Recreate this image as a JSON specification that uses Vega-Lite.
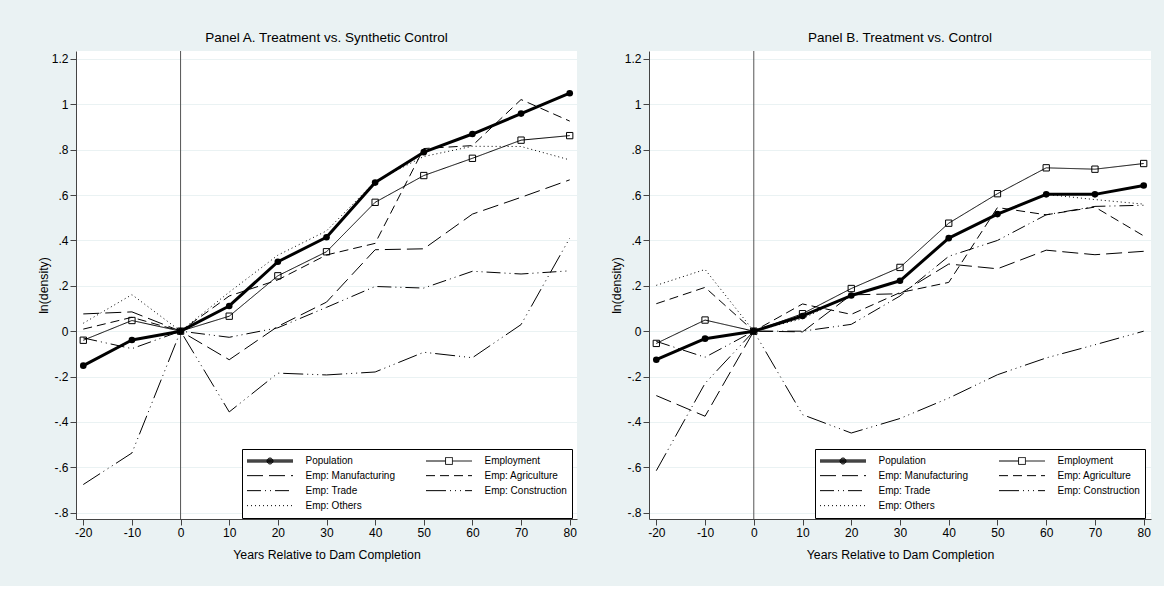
{
  "$schema": "https://vega.github.io/schema/vega-lite/v6.json",
  "background": "#eaf2f3",
  "padding": {"left": 37, "top": 31, "right": 13, "bottom": 25},
  "datasets": {
    "d": [
      {"p":"A","s":"Population","x":-20,"y":-0.152},{"p":"A","s":"Population","x":-10,"y":-0.039},{"p":"A","s":"Population","x":0,"y":0},{"p":"A","s":"Population","x":10,"y":0.111},{"p":"A","s":"Population","x":20,"y":0.306},{"p":"A","s":"Population","x":30,"y":0.414},{"p":"A","s":"Population","x":40,"y":0.655},{"p":"A","s":"Population","x":50,"y":0.789},{"p":"A","s":"Population","x":60,"y":0.869},{"p":"A","s":"Population","x":70,"y":0.959},{"p":"A","s":"Population","x":80,"y":1.049},
      {"p":"A","s":"Employment","x":-20,"y":-0.040},{"p":"A","s":"Employment","x":-10,"y":0.047},{"p":"A","s":"Employment","x":0,"y":0},{"p":"A","s":"Employment","x":10,"y":0.066},{"p":"A","s":"Employment","x":20,"y":0.244},{"p":"A","s":"Employment","x":30,"y":0.350},{"p":"A","s":"Employment","x":40,"y":0.568},{"p":"A","s":"Employment","x":50,"y":0.686},{"p":"A","s":"Employment","x":60,"y":0.762},{"p":"A","s":"Employment","x":70,"y":0.842},{"p":"A","s":"Employment","x":80,"y":0.862},
      {"p":"A","s":"Emp: Manufacturing","x":-20,"y":0.076},{"p":"A","s":"Emp: Manufacturing","x":-10,"y":0.085},{"p":"A","s":"Emp: Manufacturing","x":0,"y":0},{"p":"A","s":"Emp: Manufacturing","x":10,"y":-0.126},{"p":"A","s":"Emp: Manufacturing","x":20,"y":0.021},{"p":"A","s":"Emp: Manufacturing","x":30,"y":0.128},{"p":"A","s":"Emp: Manufacturing","x":40,"y":0.359},{"p":"A","s":"Emp: Manufacturing","x":50,"y":0.363},{"p":"A","s":"Emp: Manufacturing","x":60,"y":0.516},{"p":"A","s":"Emp: Manufacturing","x":70,"y":0.590},{"p":"A","s":"Emp: Manufacturing","x":80,"y":0.667},
      {"p":"A","s":"Emp: Agriculture","x":-20,"y":0.009},{"p":"A","s":"Emp: Agriculture","x":-10,"y":0.061},{"p":"A","s":"Emp: Agriculture","x":0,"y":0},{"p":"A","s":"Emp: Agriculture","x":10,"y":0.155},{"p":"A","s":"Emp: Agriculture","x":20,"y":0.226},{"p":"A","s":"Emp: Agriculture","x":30,"y":0.336},{"p":"A","s":"Emp: Agriculture","x":40,"y":0.387},{"p":"A","s":"Emp: Agriculture","x":50,"y":0.805},{"p":"A","s":"Emp: Agriculture","x":60,"y":0.818},{"p":"A","s":"Emp: Agriculture","x":70,"y":1.021},{"p":"A","s":"Emp: Agriculture","x":80,"y":0.926},
      {"p":"A","s":"Emp: Trade","x":-20,"y":-0.030},{"p":"A","s":"Emp: Trade","x":-10,"y":-0.077},{"p":"A","s":"Emp: Trade","x":0,"y":0},{"p":"A","s":"Emp: Trade","x":10,"y":-0.027},{"p":"A","s":"Emp: Trade","x":20,"y":0.015},{"p":"A","s":"Emp: Trade","x":30,"y":0.105},{"p":"A","s":"Emp: Trade","x":40,"y":0.197},{"p":"A","s":"Emp: Trade","x":50,"y":0.190},{"p":"A","s":"Emp: Trade","x":60,"y":0.264},{"p":"A","s":"Emp: Trade","x":70,"y":0.252},{"p":"A","s":"Emp: Trade","x":80,"y":0.266},
      {"p":"A","s":"Emp: Construction","x":-20,"y":-0.676},{"p":"A","s":"Emp: Construction","x":-10,"y":-0.537},{"p":"A","s":"Emp: Construction","x":0,"y":0},{"p":"A","s":"Emp: Construction","x":10,"y":-0.356},{"p":"A","s":"Emp: Construction","x":20,"y":-0.185},{"p":"A","s":"Emp: Construction","x":30,"y":-0.193},{"p":"A","s":"Emp: Construction","x":40,"y":-0.180},{"p":"A","s":"Emp: Construction","x":50,"y":-0.093},{"p":"A","s":"Emp: Construction","x":60,"y":-0.117},{"p":"A","s":"Emp: Construction","x":70,"y":0.029},{"p":"A","s":"Emp: Construction","x":80,"y":0.410},
      {"p":"A","s":"Emp: Others","x":-20,"y":0.035},{"p":"A","s":"Emp: Others","x":-10,"y":0.161},{"p":"A","s":"Emp: Others","x":0,"y":0},{"p":"A","s":"Emp: Others","x":10,"y":0.172},{"p":"A","s":"Emp: Others","x":20,"y":0.335},{"p":"A","s":"Emp: Others","x":30,"y":0.442},{"p":"A","s":"Emp: Others","x":40,"y":0.660},{"p":"A","s":"Emp: Others","x":50,"y":0.770},{"p":"A","s":"Emp: Others","x":60,"y":0.815},{"p":"A","s":"Emp: Others","x":70,"y":0.814},{"p":"A","s":"Emp: Others","x":80,"y":0.755},
      {"p":"B","s":"Population","x":-20,"y":-0.126},{"p":"B","s":"Population","x":-10,"y":-0.033},{"p":"B","s":"Population","x":0,"y":0},{"p":"B","s":"Population","x":10,"y":0.067},{"p":"B","s":"Population","x":20,"y":0.157},{"p":"B","s":"Population","x":30,"y":0.222},{"p":"B","s":"Population","x":40,"y":0.410},{"p":"B","s":"Population","x":50,"y":0.516},{"p":"B","s":"Population","x":60,"y":0.603},{"p":"B","s":"Population","x":70,"y":0.603},{"p":"B","s":"Population","x":80,"y":0.642},
      {"p":"B","s":"Employment","x":-20,"y":-0.054},{"p":"B","s":"Employment","x":-10,"y":0.049},{"p":"B","s":"Employment","x":0,"y":0},{"p":"B","s":"Employment","x":10,"y":0.077},{"p":"B","s":"Employment","x":20,"y":0.188},{"p":"B","s":"Employment","x":30,"y":0.281},{"p":"B","s":"Employment","x":40,"y":0.476},{"p":"B","s":"Employment","x":50,"y":0.606},{"p":"B","s":"Employment","x":60,"y":0.720},{"p":"B","s":"Employment","x":70,"y":0.714},{"p":"B","s":"Employment","x":80,"y":0.739},
      {"p":"B","s":"Emp: Manufacturing","x":-20,"y":-0.284},{"p":"B","s":"Emp: Manufacturing","x":-10,"y":-0.375},{"p":"B","s":"Emp: Manufacturing","x":0,"y":0},{"p":"B","s":"Emp: Manufacturing","x":10,"y":-0.003},{"p":"B","s":"Emp: Manufacturing","x":20,"y":0.160},{"p":"B","s":"Emp: Manufacturing","x":30,"y":0.165},{"p":"B","s":"Emp: Manufacturing","x":40,"y":0.296},{"p":"B","s":"Emp: Manufacturing","x":50,"y":0.275},{"p":"B","s":"Emp: Manufacturing","x":60,"y":0.357},{"p":"B","s":"Emp: Manufacturing","x":70,"y":0.337},{"p":"B","s":"Emp: Manufacturing","x":80,"y":0.352},
      {"p":"B","s":"Emp: Agriculture","x":-20,"y":0.121},{"p":"B","s":"Emp: Agriculture","x":-10,"y":0.193},{"p":"B","s":"Emp: Agriculture","x":0,"y":0},{"p":"B","s":"Emp: Agriculture","x":10,"y":0.120},{"p":"B","s":"Emp: Agriculture","x":20,"y":0.074},{"p":"B","s":"Emp: Agriculture","x":30,"y":0.170},{"p":"B","s":"Emp: Agriculture","x":40,"y":0.215},{"p":"B","s":"Emp: Agriculture","x":50,"y":0.545},{"p":"B","s":"Emp: Agriculture","x":60,"y":0.513},{"p":"B","s":"Emp: Agriculture","x":70,"y":0.547},{"p":"B","s":"Emp: Agriculture","x":80,"y":0.420},
      {"p":"B","s":"Emp: Trade","x":-20,"y":-0.045},{"p":"B","s":"Emp: Trade","x":-10,"y":-0.115},{"p":"B","s":"Emp: Trade","x":0,"y":0},{"p":"B","s":"Emp: Trade","x":10,"y":0.000},{"p":"B","s":"Emp: Trade","x":20,"y":0.030},{"p":"B","s":"Emp: Trade","x":30,"y":0.155},{"p":"B","s":"Emp: Trade","x":40,"y":0.330},{"p":"B","s":"Emp: Trade","x":50,"y":0.400},{"p":"B","s":"Emp: Trade","x":60,"y":0.513},{"p":"B","s":"Emp: Trade","x":70,"y":0.550},{"p":"B","s":"Emp: Trade","x":80,"y":0.555},
      {"p":"B","s":"Emp: Construction","x":-20,"y":-0.615},{"p":"B","s":"Emp: Construction","x":-10,"y":-0.230},{"p":"B","s":"Emp: Construction","x":0,"y":0},{"p":"B","s":"Emp: Construction","x":10,"y":-0.368},{"p":"B","s":"Emp: Construction","x":20,"y":-0.449},{"p":"B","s":"Emp: Construction","x":30,"y":-0.385},{"p":"B","s":"Emp: Construction","x":40,"y":-0.295},{"p":"B","s":"Emp: Construction","x":50,"y":-0.192},{"p":"B","s":"Emp: Construction","x":60,"y":-0.118},{"p":"B","s":"Emp: Construction","x":70,"y":-0.060},{"p":"B","s":"Emp: Construction","x":80,"y":0.000},
      {"p":"B","s":"Emp: Others","x":-20,"y":0.202},{"p":"B","s":"Emp: Others","x":-10,"y":0.272},{"p":"B","s":"Emp: Others","x":0,"y":0},{"p":"B","s":"Emp: Others","x":10,"y":0.055},{"p":"B","s":"Emp: Others","x":20,"y":0.160},{"p":"B","s":"Emp: Others","x":30,"y":0.220},{"p":"B","s":"Emp: Others","x":40,"y":0.410},{"p":"B","s":"Emp: Others","x":50,"y":0.520},{"p":"B","s":"Emp: Others","x":60,"y":0.603},{"p":"B","s":"Emp: Others","x":70,"y":0.580},{"p":"B","s":"Emp: Others","x":80,"y":0.560}
    ],
    "zero": [{"x": 0}]
  },
  "config": {
    "font": "Liberation Sans",
    "view": {"fill": "white", "stroke": null},
    "concat": {"spacing": 33},
    "title": {"fontSize": 13.5, "fontWeight": "normal", "color": "#000000", "offset": 6},
    "axis": {
      "domainColor": "#444444", "tickColor": "#444444", "tickSize": 6, "labelPadding": 2,
      "labelFontSize": 12, "labelColor": "#000000", "titleFontSize": 12.3, "titleFontWeight": "normal", "titleColor": "#000000"
    },
    "axisY": {"grid": true, "gridColor": "#eaf2f3", "gridWidth": 1, "titlePadding": 1},
    "axisX": {"grid": false, "titlePadding": 10},
    "legend": {
      "labelFontSize": 10, "labelColor": "#000000", "labelOffset": 12, "columnPadding": 30, "rowPadding": 0,
      "clipHeight": 14.3, "symbolSize": 2116, "padding": 4.5, "fillColor": "white", "strokeColor": "#000000",
      "symbolStrokeColor": "#000000", "symbolFillColor": "transparent", "symbolStrokeWidth": 1, "symbolOpacity": 1, "labelLimit": 200
    }
  },
  "resolve": {
    "scale": {"x": "independent", "y": "independent", "strokeDash": "independent", "shape": "independent"},
    "legend": {"strokeDash": "independent", "shape": "independent"}
  },
  "hconcat": [
    {
      "title": "Panel A. Treatment vs. Synthetic Control",
      "width": 501, "height": 468,
      "layer": [
        {
          "data": {"name": "zero"},
          "mark": {"type": "rule", "color": "#555555", "strokeWidth": 1},
          "encoding": {"x": {"field": "x", "type": "quantitative", "scale": {"domain": [-21.5, 81.5], "nice": false, "zero": false}}}
        },
        {
          "data": {"name": "d"},
          "transform": [{"filter": "datum.p == 'A' && datum.s != 'Population'"}],
          "mark": {"type": "line", "color": "#000000", "strokeCap": "butt", "strokeWidth": 1},
          "encoding": {
            "x": {"field": "x", "type": "quantitative", "scale": {"domain": [-21.5, 81.5], "nice": false, "zero": false},
                  "axis": {"title": "Years Relative to Dam Completion", "values": [-20,-10,0,10,20,30,40,50,60,70,80], "labelExpr": "(datum.value < 0 ? '-' : '') + format(abs(datum.value), 'd')"}},
            "y": {"field": "y", "type": "quantitative", "scale": {"domain": [-0.828, 1.235], "nice": false, "zero": false},
                  "axis": {"title": "ln(density)", "values": [-0.8,-0.6,-0.4,-0.2,0,0.2,0.4,0.6,0.8,1,1.2], "labelExpr": "(datum.value < -0.001 ? '-' : '') + (abs(datum.value) < 0.001 ? '0' : (abs(datum.value) < 0.999 ? slice(format(abs(datum.value), '.1f'), 1) : format(abs(datum.value), '.1~f')))"}},
            "detail": {"field": "s"},
            "strokeDash": {"field": "s", "type": "nominal",
              "scale": {"domain": ["Population","Employment","Emp: Manufacturing","Emp: Agriculture","Emp: Trade","Emp: Construction","Emp: Others"],
                        "range": [[1,0],[1,0],[16,6],[9,5],[14,4,1,4,1,4],[20,4,1,4,1,4,1,4],[1,3]]},
              "legend": {"title": null, "orient": "none", "legendX": 166, "legendY": 398, "columns": 2, "direction": "horizontal"}}
          }
        },
        {
          "data": {"name": "d"},
          "transform": [{"filter": "datum.p == 'A' && datum.x > 1000"}],
          "mark": {"type": "point", "color": "#000000", "filled": false, "strokeWidth": 1, "opacity": 1},
          "encoding": {
            "x": {"field": "x", "type": "quantitative"},
            "y": {"field": "y", "type": "quantitative"},
            "shape": {"field": "s", "type": "nominal",
              "scale": {"domain": ["Population","Employment","Emp: Manufacturing","Emp: Agriculture","Emp: Trade","Emp: Construction","Emp: Others"],
                        "range": ["M-1,-0.045H1M-1,0H1M-1,0.045H1M-0.13,0A0.13,0.13,0,1,0,0.13,0A0.13,0.13,0,1,0,-0.13,0M-0.09,0A0.09,0.09,0,1,0,0.09,0A0.09,0.09,0,1,0,-0.09,0M-0.05,0A0.05,0.05,0,1,0,0.05,0A0.05,0.05,0,1,0,-0.05,0M-0.015,0A0.015,0.015,0,1,0,0.015,0A0.015,0.015,0,1,0,-0.015,0","M-1,0H-0.15M0.15,0H1M-0.15,-0.15H0.15V0.15H-0.15Z","M-1,0H1","M-1,0H1","M-1,0H1","M-1,0H1","M-1,0H1"]},
              "legend": {"title": null, "orient": "none", "legendX": 166, "legendY": 398, "columns": 2, "direction": "horizontal"}}
          }
        },
        {
          "data": {"name": "d"},
          "transform": [{"filter": "datum.p == 'A' && datum.s == 'Employment'"}],
          "mark": {"type": "point", "shape": "square", "filled": false, "color": "#000000", "strokeWidth": 1, "size": 40, "opacity": 1},
          "encoding": {"x": {"field": "x", "type": "quantitative"}, "y": {"field": "y", "type": "quantitative"}}
        },
        {
          "data": {"name": "d"},
          "transform": [{"filter": "datum.p == 'A' && datum.s == 'Population'"}],
          "mark": {"type": "line", "color": "#000000", "strokeWidth": 3, "strokeJoin": "round"},
          "encoding": {"x": {"field": "x", "type": "quantitative"}, "y": {"field": "y", "type": "quantitative"}}
        },
        {
          "data": {"name": "d"},
          "transform": [{"filter": "datum.p == 'A' && datum.s == 'Population'"}],
          "mark": {"type": "circle", "color": "#000000", "size": 44, "opacity": 1},
          "encoding": {"x": {"field": "x", "type": "quantitative"}, "y": {"field": "y", "type": "quantitative"}}
        }
      ]
    },
    {
      "title": "Panel B. Treatment vs. Control",
      "width": 502, "height": 468,
      "layer": [
        {
          "data": {"name": "zero"},
          "mark": {"type": "rule", "color": "#555555", "strokeWidth": 1},
          "encoding": {"x": {"field": "x", "type": "quantitative", "scale": {"domain": [-21.5, 81.5], "nice": false, "zero": false}}}
        },
        {
          "data": {"name": "d"},
          "transform": [{"filter": "datum.p == 'B' && datum.s != 'Population'"}],
          "mark": {"type": "line", "color": "#000000", "strokeCap": "butt", "strokeWidth": 1},
          "encoding": {
            "x": {"field": "x", "type": "quantitative", "scale": {"domain": [-21.5, 81.5], "nice": false, "zero": false},
                  "axis": {"title": "Years Relative to Dam Completion", "values": [-20,-10,0,10,20,30,40,50,60,70,80], "labelExpr": "(datum.value < 0 ? '-' : '') + format(abs(datum.value), 'd')"}},
            "y": {"field": "y", "type": "quantitative", "scale": {"domain": [-0.828, 1.235], "nice": false, "zero": false},
                  "axis": {"title": "ln(density)", "values": [-0.8,-0.6,-0.4,-0.2,0,0.2,0.4,0.6,0.8,1,1.2], "labelExpr": "(datum.value < -0.001 ? '-' : '') + (abs(datum.value) < 0.001 ? '0' : (abs(datum.value) < 0.999 ? slice(format(abs(datum.value), '.1f'), 1) : format(abs(datum.value), '.1~f')))"}},
            "detail": {"field": "s"},
            "strokeDash": {"field": "s", "type": "nominal",
              "scale": {"domain": ["Population","Employment","Emp: Manufacturing","Emp: Agriculture","Emp: Trade","Emp: Construction","Emp: Others"],
                        "range": [[1,0],[1,0],[16,6],[9,5],[14,4,1,4,1,4],[20,4,1,4,1,4,1,4],[1,3]]},
              "legend": {"title": null, "orient": "none", "legendX": 166, "legendY": 398, "columns": 2, "direction": "horizontal"}}
          }
        },
        {
          "data": {"name": "d"},
          "transform": [{"filter": "datum.p == 'B' && datum.x > 1000"}],
          "mark": {"type": "point", "color": "#000000", "filled": false, "strokeWidth": 1, "opacity": 1},
          "encoding": {
            "x": {"field": "x", "type": "quantitative"},
            "y": {"field": "y", "type": "quantitative"},
            "shape": {"field": "s", "type": "nominal",
              "scale": {"domain": ["Population","Employment","Emp: Manufacturing","Emp: Agriculture","Emp: Trade","Emp: Construction","Emp: Others"],
                        "range": ["M-1,-0.045H1M-1,0H1M-1,0.045H1M-0.13,0A0.13,0.13,0,1,0,0.13,0A0.13,0.13,0,1,0,-0.13,0M-0.09,0A0.09,0.09,0,1,0,0.09,0A0.09,0.09,0,1,0,-0.09,0M-0.05,0A0.05,0.05,0,1,0,0.05,0A0.05,0.05,0,1,0,-0.05,0M-0.015,0A0.015,0.015,0,1,0,0.015,0A0.015,0.015,0,1,0,-0.015,0","M-1,0H-0.15M0.15,0H1M-0.15,-0.15H0.15V0.15H-0.15Z","M-1,0H1","M-1,0H1","M-1,0H1","M-1,0H1","M-1,0H1"]},
              "legend": {"title": null, "orient": "none", "legendX": 166, "legendY": 398, "columns": 2, "direction": "horizontal"}}
          }
        },
        {
          "data": {"name": "d"},
          "transform": [{"filter": "datum.p == 'B' && datum.s == 'Employment'"}],
          "mark": {"type": "point", "shape": "square", "filled": false, "color": "#000000", "strokeWidth": 1, "size": 40, "opacity": 1},
          "encoding": {"x": {"field": "x", "type": "quantitative"}, "y": {"field": "y", "type": "quantitative"}}
        },
        {
          "data": {"name": "d"},
          "transform": [{"filter": "datum.p == 'B' && datum.s == 'Population'"}],
          "mark": {"type": "line", "color": "#000000", "strokeWidth": 3, "strokeJoin": "round"},
          "encoding": {"x": {"field": "x", "type": "quantitative"}, "y": {"field": "y", "type": "quantitative"}}
        },
        {
          "data": {"name": "d"},
          "transform": [{"filter": "datum.p == 'B' && datum.s == 'Population'"}],
          "mark": {"type": "circle", "color": "#000000", "size": 44, "opacity": 1},
          "encoding": {"x": {"field": "x", "type": "quantitative"}, "y": {"field": "y", "type": "quantitative"}}
        }
      ]
    }
  ]
}
